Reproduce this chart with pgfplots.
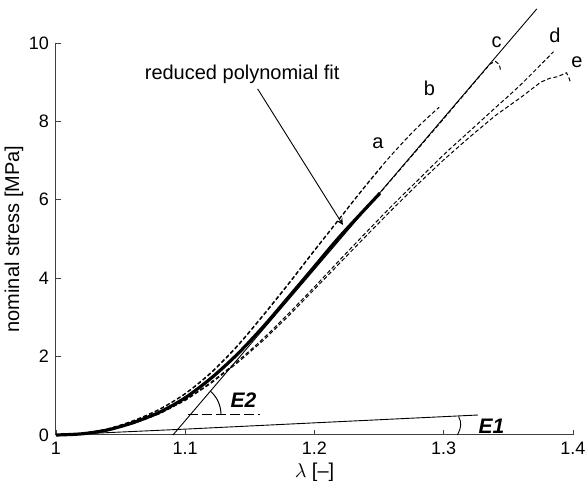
\documentclass[border=0pt]{standalone}
\usepackage{fontspec}
\setmainfont{Liberation Sans}
\usepackage{pgfplots}
\pgfplotsset{compat=1.18}
\begin{document}
\begin{tikzpicture}
\begin{axis}[
  scale only axis,
  width=258.5pt, height=196pt,
  xmin=1, xmax=1.4, ymin=0, ymax=10,
  axis lines*=left,
  axis line style={black!75, line width=0.5pt},
  tick align=inside,
  major tick length=2.5pt,
  tick style={black!75, line width=0.4pt},
  xtick={1,1.1,1.2,1.3,1.4},
  xticklabels={1,1.1,1.2,1.3,1.4},
  ytick={0,2,4,6,8,10},
  /pgf/number format/assume math mode=true,
  ticklabel style={font=\fontsize{9}{10}\selectfont},
  xlabel={$\lambda$ [–]},
  ylabel={nominal stress [MPa]},
  label style={font=\fontsize{10}{12}\selectfont},
  xlabel style={yshift=3pt},
  ylabel style={yshift=-4pt},
  clip=false,
]
% straight tangent line (E2)
\addplot[black, line width=0.45pt] coordinates {(1.0905,0) (1.372,10.87)};
% E1 line
\addplot[black, line width=0.45pt] coordinates {(1,0) (1.10,0.15) (1.2,0.31) (1.3265,0.51)};
% curve a
\addplot[black, line width=0.5pt, dash pattern=on 2pt off 1.2pt, smooth] coordinates {
(1,0) (1.02,0.04) (1.04,0.15) (1.06,0.36) (1.08,0.65) (1.10,1.05) (1.12,1.58)
(1.14,2.25) (1.16,3.03) (1.18,3.85) (1.20,4.70) (1.22,5.54) (1.23,5.96) (1.24,6.37)
(1.25,6.77) (1.253,6.89)};
% curve b
\addplot[black, line width=0.5pt, dash pattern=on 2pt off 1.2pt, smooth] coordinates {
(1,0) (1.02,0.04) (1.04,0.16) (1.06,0.37) (1.08,0.66) (1.10,1.06) (1.12,1.6)
(1.14,2.27) (1.16,3.05) (1.18,3.87) (1.20,4.72) (1.22,5.55) (1.23,5.97) (1.24,6.38)
(1.25,6.78) (1.26,7.16) (1.27,7.52) (1.28,7.86) (1.29,8.17) (1.2965,8.36)};
% curve c
\addplot[black, line width=0.5pt, dash pattern=on 2pt off 1.2pt] coordinates {
(1,0) (1.02,0.03) (1.04,0.12) (1.06,0.31) (1.08,0.57) (1.10,0.94) (1.12,1.43)
(1.14,2.03) (1.16,2.72) (1.18,3.48) (1.20,4.25) (1.22,5.03) (1.25,6.15) (1.28,7.3)
(1.30,8.07) (1.32,8.85) (1.336,9.47) (1.340,9.53) (1.343,9.45) (1.344,9.3)};
% curve d
\addplot[black, line width=0.5pt, dash pattern=on 2pt off 1.2pt, smooth] coordinates {
(1,0) (1.02,0.03) (1.04,0.12) (1.06,0.3) (1.08,0.55) (1.10,0.9) (1.12,1.35)
(1.14,1.87) (1.16,2.45) (1.18,3.1) (1.20,3.78) (1.22,4.48) (1.24,5.17) (1.26,5.85)
(1.28,6.5) (1.30,7.15) (1.32,7.75) (1.34,8.35) (1.36,8.95) (1.385,9.78)};
% curve e
\addplot[black, line width=0.5pt, dash pattern=on 2pt off 1.2pt] coordinates {
(1,0) (1.02,0.03) (1.04,0.12) (1.06,0.29) (1.08,0.54) (1.10,0.88) (1.12,1.32)
(1.14,1.83) (1.16,2.4) (1.18,3.04) (1.20,3.72) (1.22,4.4) (1.24,5.08) (1.26,5.75)
(1.28,6.4) (1.30,7.02) (1.32,7.6) (1.34,8.15) (1.36,8.62) (1.375,9.0) (1.382,9.1)
(1.388,9.14) (1.395,9.24) (1.397,9.1) (1.398,9.0)};
% reduced polynomial fit
\addplot[black, line width=1.6pt, smooth] coordinates {
(1,0) (1.02,0.03) (1.04,0.13) (1.06,0.32) (1.08,0.58) (1.10,0.95) (1.12,1.45)
(1.14,2.05) (1.16,2.75) (1.18,3.52) (1.20,4.30) (1.22,5.08) (1.2507,6.17)};

% annotations
\draw[black, line width=0.45pt, dash pattern=on 5pt off 2pt] (axis cs:1.102,0.53) -- (axis cs:1.158,0.53);
\draw[black, line width=0.5pt] (axis cs:1.1276,0.53) arc[start angle=0, end angle=49.5, radius=15.25pt];
\draw[black, line width=0.45pt] (axis cs:1.3105,0) to[out=60,in=-60] (axis cs:1.3115,0.47);
\node[font=\fontsize{10.5}{12}\selectfont\bfseries\itshape] at (axis cs:1.145,0.9) {E2};
\node[font=\fontsize{10.5}{12}\selectfont\bfseries\itshape] at (axis cs:1.337,0.22) {E1};
\node[font=\fontsize{10}{12}\selectfont] at (axis cs:1.144,9.2) {reduced polynomial fit};
\draw[black, line width=0.45pt, -stealth] (axis cs:1.156,8.83) -- (axis cs:1.222,5.36);
\node[font=\fontsize{10}{12}\selectfont] at (axis cs:1.249,7.45) {a};
\node[font=\fontsize{10}{12}\selectfont] at (axis cs:1.289,8.85) {b};
\node[font=\fontsize{10}{12}\selectfont] at (axis cs:1.341,10.03) {c};
\node[font=\fontsize{10}{12}\selectfont] at (axis cs:1.386,10.2) {d};
\node[font=\fontsize{10}{12}\selectfont] at (axis cs:1.403,9.52) {e};
\coordinate (O) at (axis cs:1,0);
\end{axis}
\pgfresetboundingbox
\path[use as bounding box] (O) ++(-28pt,-23pt) rectangle ++(292.5pt,240.5pt);
\end{tikzpicture}
\end{document}
